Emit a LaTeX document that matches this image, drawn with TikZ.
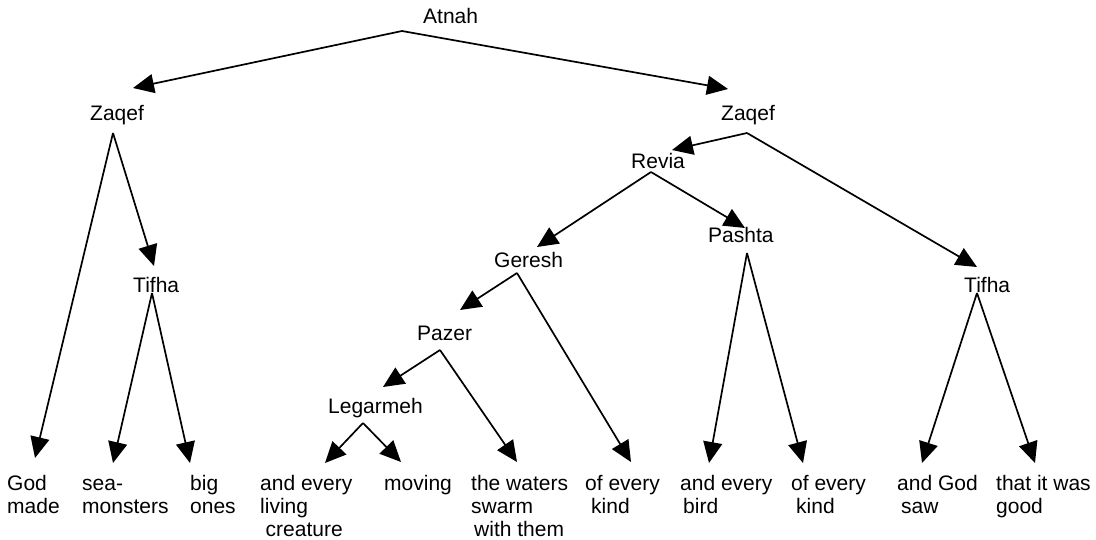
\documentclass[tikz,border=0pt]{standalone}
\usepackage{fontspec}
\setmainfont{Liberation Sans}
\usetikzlibrary{arrows.meta}
\begin{document}
\begin{tikzpicture}[x=1pt,y=-1pt,
  lbl/.style={anchor=base west, inner sep=0pt, font=\fontsize{21}{23.3}\selectfont},
  leaf/.style={lbl},
  edge/.style={line width=1.7pt, -{Triangle[length=21pt,width=19pt]}}]
\useasboundingbox[fill=white] (0,0) rectangle (1096,539);

% accent labels (inner nodes)
\node[lbl] (atnah)    at (423,23)  {Atnah};
\node[lbl] (zaqefL)   at (90,120)  {Zaqef};
\node[lbl] (zaqefR)   at (721,120) {Zaqef};
\node[lbl] (revia)    at (631,168) {Revia};
\node[lbl] (pashta)   at (708,242) {Pashta};
\node[lbl] (geresh)   at (494,267) {Geresh};
\node[lbl] (tifhaL)   at (133,292) {Tifha};
\node[lbl] (tifhaR)   at (964,292) {Tifha};
\node[lbl] (pazer)    at (417,340) {Pazer};
\node[lbl] (legarmeh) at (328,413) {Legarmeh};

% words (leaves); \vtop keeps the first line on the node's baseline
\node[leaf] (w1)  at (7,490)   {\vtop{\hbox{God}\hbox{made}}};
\node[leaf] (w2)  at (82,490)  {\vtop{\hbox{sea-}\hbox{monsters}}};
\node[leaf] (w3)  at (190,490) {\vtop{\hbox{big}\hbox{ones}}};
\node[leaf] (w4)  at (260,490) {\vtop{\hbox{and every}\hbox{living}\hbox{\hspace*{5.5pt}creature}}};
\node[leaf] (w5)  at (384,490) {moving};
\node[leaf] (w6)  at (471,490) {\vtop{\hbox{the waters}\hbox{swarm}\hbox{\hspace*{3pt}with them}}};
\node[leaf] (w7)  at (585,490) {\vtop{\hbox{of every}\hbox{\hspace*{6pt}kind}}};
\node[leaf] (w8)  at (680,490) {\vtop{\hbox{and every}\hbox{\hspace*{3pt}bird}}};
\node[leaf] (w9)  at (791,490) {\vtop{\hbox{of every}\hbox{\hspace*{5pt}kind}}};
\node[leaf] (w10) at (897,490) {\vtop{\hbox{and God}\hbox{\hspace*{4pt}saw}}};
\node[leaf] (w11) at (996,490) {\vtop{\hbox{that it was}\hbox{good}}};

% where edges leave a label (o) and where their tips land (i)
\coordinate (atnah-o)    at (402,31);
\coordinate (zaqefL-o)   at (113,133);
\coordinate (zaqefR-o)   at (747,133);
\coordinate (revia-o)    at (651,172);
\coordinate (pashta-o)   at (747,253);
\coordinate (geresh-o)   at (517,273);
\coordinate (tifhaL-o)   at (152,293);
\coordinate (tifhaR-o)   at (977,293);
\coordinate (pazer-o)    at (440,350);
\coordinate (legarmeh-o) at (363,423);

\coordinate (zaqefL-i)   at (133,88);
\coordinate (zaqefR-i)   at (728,89);
\coordinate (revia-i)    at (672,150);
\coordinate (pashta-i)   at (745,228);
\coordinate (geresh-i)   at (537,247);
\coordinate (tifhaL-i)   at (154,266);
\coordinate (tifhaR-i)   at (977,267);
\coordinate (pazer-i)    at (460,310);
\coordinate (legarmeh-i) at (383,387);

\coordinate (w1-i)  at (35,458);
\coordinate (w2-i)  at (113,463);
\coordinate (w3-i)  at (190,463);
\coordinate (w4-i)  at (325,463);
\coordinate (w5-i)  at (401,462);
\coordinate (w6-i)  at (517,462);
\coordinate (w7-i)  at (631,462);
\coordinate (w8-i)  at (709,463);
\coordinate (w9-i)  at (803,463);
\coordinate (w10-i) at (922,463);
\coordinate (w11-i) at (1035,463);

% tree edges
\draw[edge] (atnah-o) -- (zaqefL-i);
\draw[edge] (atnah-o) -- (zaqefR-i);
\draw[edge] (zaqefL-o) -- (w1-i);
\draw[edge] (zaqefL-o) -- (tifhaL-i);
\draw[edge] (tifhaL-o) -- (w2-i);
\draw[edge] (tifhaL-o) -- (w3-i);
\draw[edge] (zaqefR-o) -- (revia-i);
\draw[edge] (zaqefR-o) -- (tifhaR-i);
\draw[edge] (revia-o) -- (geresh-i);
\draw[edge] (revia-o) -- (pashta-i);
\draw[edge] (geresh-o) -- (pazer-i);
\draw[edge] (geresh-o) -- (w7-i);
\draw[edge] (pazer-o) -- (legarmeh-i);
\draw[edge] (pazer-o) -- (w6-i);
\draw[edge] (legarmeh-o) -- (w4-i);
\draw[edge] (legarmeh-o) -- (w5-i);
\draw[edge] (pashta-o) -- (w8-i);
\draw[edge] (pashta-o) -- (w9-i);
\draw[edge] (tifhaR-o) -- (w10-i);
\draw[edge] (tifhaR-o) -- (w11-i);
\end{tikzpicture}
\end{document}
